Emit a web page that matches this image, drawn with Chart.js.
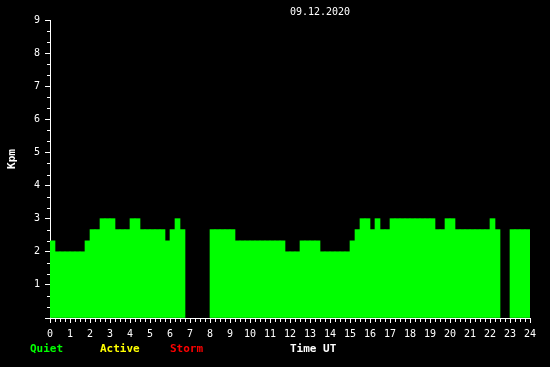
<!DOCTYPE html>
<html>
<head>
<meta charset="utf-8">
<script src="https://cdn.jsdelivr.net/npm/chart.js@4/dist/chart.umd.min.js"></script>
<style>
  html, body { margin: 0; padding: 0; background: #000; }
  canvas { display: block; background: #000; }
</style>
</head>
<body>
<canvas id="kpmChart" width="550" height="367"></canvas>
<script>
// 15 minute Kpm values for the day, null = no data
var kpm = [
    2.33, 2, 2, 2, 2, 2, 2, 2.33,
    2.67, 2.67, 3, 3, 3, 2.67, 2.67, 2.67,
    3, 3, 2.67, 2.67, 2.67, 2.67, 2.67, 2.33,
    2.67, 3, 2.67, null, null, null, null, null,
    2.67, 2.67, 2.67, 2.67, 2.67, 2.33, 2.33, 2.33,
    2.33, 2.33, 2.33, 2.33, 2.33, 2.33, 2.33, 2,
    2, 2, 2.33, 2.33, 2.33, 2.33, 2, 2,
    2, 2, 2, 2, 2.33, 2.67, 3, 3,
    2.67, 3, 2.67, 2.67, 3, 3, 3, 3,
    3, 3, 3, 3, 3, 2.67, 2.67, 3,
    3, 2.67, 2.67, 2.67, 2.67, 2.67, 2.67, 2.67,
    3, 2.67, null, null, 2.67, 2.67, 2.67, 2.67
];
var slotMinutes = 15;
var slotHours = kpm.map(function(v, i) {
    return (i + 0.5) * slotMinutes / 60;
});
var dateLabel = '09.12.2020';
var levelNames = ['Quiet', 'Active', 'Storm'];
var levelLimits = [4, 5];
var yTitle = 'Kpm';
var xTitle = 'Time UT';

var levelColors = ['#00ff00', '#ffff00', '#ff0000'];

function levelColor(v) {
    if (v >= levelLimits[1]) return levelColors[2];
    if (v >= levelLimits[0]) return levelColors[1];
    return levelColors[0];
}

var textOverlay = {
    id: 'textOverlay',
    afterDraw: function(chart) {
        var ctx = chart.ctx;
        var xs = chart.scales.x;
        var ys = chart.scales.y;
        var area = chart.chartArea;
        ctx.save();

        // minor ticks: quarter hours and thirds of a unit
        ctx.strokeStyle = '#ffffff';
        ctx.lineWidth = 1;
        ctx.beginPath();
        for (var q = 1; q < 96; q++) {
            if (q % 4 === 0) continue;
            var px = Math.round(xs.getPixelForValue(q / 4)) + 0.5;
            ctx.moveTo(px, area.bottom);
            ctx.lineTo(px, area.bottom + 4);
        }
        for (var t = 1; t < 27; t++) {
            if (t % 3 === 0) continue;
            var py = Math.round(ys.getPixelForValue(t / 3)) + 0.5;
            ctx.moveTo(area.left - 3, py);
            ctx.lineTo(area.left, py);
        }
        ctx.stroke();

        ctx.textBaseline = 'middle';
        ctx.fillStyle = '#ffffff';
        ctx.font = '10px "DejaVu Sans Mono"';
        ctx.textAlign = 'center';
        ctx.fillText(dateLabel, 320, 12);

        ctx.font = 'bold 11px "DejaVu Sans Mono"';
        ctx.textAlign = 'left';
        var legendX = [30, 100, 170];
        levelNames.forEach(function(name, i) {
            ctx.fillStyle = levelColors[i];
            ctx.fillText(name, legendX[i], 349);
        });
        ctx.fillStyle = '#ffffff';
        ctx.fillText(xTitle, 290, 349);

        ctx.translate(12, 159);
        ctx.rotate(-Math.PI / 2);
        ctx.textAlign = 'center';
        ctx.fillText(yTitle, 0, 0);
        ctx.restore();
    }
};

var kpmCtx = document.getElementById('kpmChart').getContext('2d');

var kpmChart = new Chart(kpmCtx, {
    type: 'bar',
    data: {
        datasets: [{
            label: yTitle,
            data: kpm.map(function(v, i) {
                return { x: slotHours[i], y: v };
            }),
            backgroundColor: function(c) {
                return c.raw ? levelColor(c.raw.y) : levelColors[0];
            },
            borderWidth: 0,
            barPercentage: 1,
            categoryPercentage: 1
        }]
    },
    options: {
        responsive: false,
        animation: false,
        layout: {
            padding: { top: 20, right: 20, left: 0, bottom: 0 }
        },
        scales: {
            x: {
                type: 'linear',
                min: 0,
                max: 24,
                offset: false,
                afterFit: function(scale) { scale.height = 49; },
                grid: {
                    offset: false,
                    drawOnChartArea: false,
                    color: '#ffffff',
                    tickLength: 5
                },
                border: { display: true, color: '#ffffff', width: 1 },
                ticks: {
                    stepSize: 1,
                    autoSkip: false,
                    maxRotation: 0,
                    padding: 5,
                    color: '#ffffff',
                    font: { size: 10, family: 'DejaVu Sans Mono' }
                }
            },
            y: {
                min: 0,
                max: 9,
                afterFit: function(scale) { scale.width = 50; },
                grid: {
                    drawOnChartArea: false,
                    color: '#ffffff',
                    tickLength: 5
                },
                border: { display: true, color: '#ffffff', width: 1 },
                ticks: {
                    stepSize: 1,
                    padding: 5,
                    color: '#ffffff',
                    font: { size: 10, family: 'DejaVu Sans Mono' },
                    callback: function(v) {
                        return v === 0 ? '' : v;
                    }
                }
            }
        },
        plugins: {
            legend: { display: false },
            title: { display: false },
            tooltip: { enabled: false }
        }
    },
    plugins: [textOverlay]
});
</script>
</body>
</html>
